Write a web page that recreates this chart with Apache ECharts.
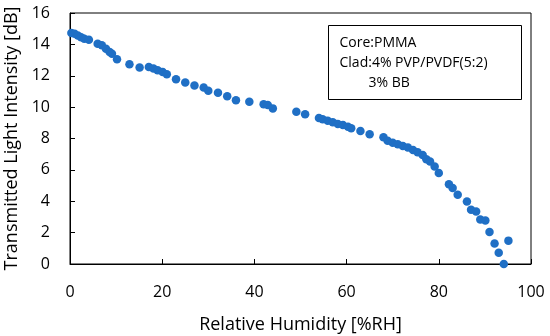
<!DOCTYPE html>
<html>
<head>
<meta charset="utf-8">
<script src="https://cdn.jsdelivr.net/npm/echarts@6/dist/echarts.min.js"></script>
<style>html,body{margin:0;padding:0;background:#fff}#c{width:550px;height:336px}</style>
</head>
<body>
<div id="c"></div>
<script>
const humidity = [0.3,1.0,1.7,2.4,3.1,4.1,6.0,6.9,7.8,8.6,9.1,10.2,12.9,15.1,17.1,18.1,19.0,20.1,21.0,23.0,25.0,27.0,29.0,30.0,32.1,34.1,36.0,38.9,42.0,42.9,44.0,49.1,51.0,54.0,54.8,55.9,57.0,58.1,59.2,60.3,61.0,63.0,65.0,68.0,68.9,70.0,71.1,72.2,73.3,74.4,75.4,76.5,77.3,78.1,79.1,80.0,82.2,83.0,84.1,86.1,87.0,88.1,89.0,90.1,91.0,92.1,93.0,94.1,95.1];
const intensity = [14.72,14.68,14.57,14.46,14.36,14.3,14.04,13.94,13.72,13.51,13.4,13.05,12.73,12.52,12.56,12.46,12.35,12.24,12.1,11.78,11.57,11.38,11.25,11.04,10.91,10.7,10.44,10.34,10.19,10.13,9.92,9.70,9.54,9.3,9.22,9.13,9.03,8.92,8.86,8.75,8.65,8.48,8.27,8.08,7.86,7.73,7.63,7.52,7.42,7.27,7.12,6.95,6.68,6.53,6.21,5.8,5.09,4.84,4.41,3.99,3.46,3.35,2.83,2.78,2.04,1.30,0.71,0.0,1.49];
const xTitle = 'Relative Humidity [%RH]';
const yTitle = 'Transmitted Light Intensity [dB]';
const noteLines = ['Core:PMMA', 'Clad:4% PVP/PVDF(5:2)', '        3% BB'];

const FONT = 'Open Sans';
const chart = echarts.init(document.getElementById('c'));
const axisCommon = {
  axisLine: {show: true, lineStyle: {color: '#000', width: 1}},
  axisTick: {show: true, inside: true, length: 5, lineStyle: {color: '#000'}},
  splitLine: {show: false},
  axisLabel: {color: '#000', fontSize: 16, fontFamily: FONT},
  nameTextStyle: {color: '#000', fontSize: 18, fontFamily: FONT},
  nameLocation: 'middle'
};
chart.setOption({
  animation: false,
  grid: {left: 70, right: 19, top: 13, bottom: 72, show: true, borderColor: '#000', borderWidth: 1, containLabel: false, outerBoundsMode: 'none'},
  xAxis: Object.assign({}, axisCommon, {
    type: 'value', min: 0, max: 100, interval: 20, name: xTitle, nameGap: 52,
    axisLabel: Object.assign({}, axisCommon.axisLabel, {margin: 20})
  }),
  yAxis: Object.assign({}, axisCommon, {
    type: 'value', min: 0, max: 16, interval: 2, name: yTitle, nameGap: 47,
    axisLabel: Object.assign({}, axisCommon.axisLabel, {margin: 20})
  }),
  series: [{
    type: 'scatter',
    data: humidity.map((h, i) => [h, intensity[i]]),
    symbolSize: 8.5,
    itemStyle: {color: '#1f6fc5', opacity: 1}
  }],
  graphic: [{
    type: 'group', left: 328, top: 25,
    children: [
      {type: 'rect', shape: {x: 0, y: 0, width: 193, height: 74}, style: {fill: '#fff', stroke: '#000', lineWidth: 1}},
      {type: 'text', x: 11, y: 18, style: {text: noteLines[0], font: '14px "' + FONT + '"', fill: '#000', verticalAlign: 'middle'}},
      {type: 'text', x: 11, y: 38, style: {text: noteLines[1], font: '14px "' + FONT + '"', fill: '#000', verticalAlign: 'middle'}},
      {type: 'text', x: 11, y: 58, style: {text: noteLines[2], font: '14px "' + FONT + '"', fill: '#000', verticalAlign: 'middle'}}
    ]
  }]
});
</script>
</body>
</html>
